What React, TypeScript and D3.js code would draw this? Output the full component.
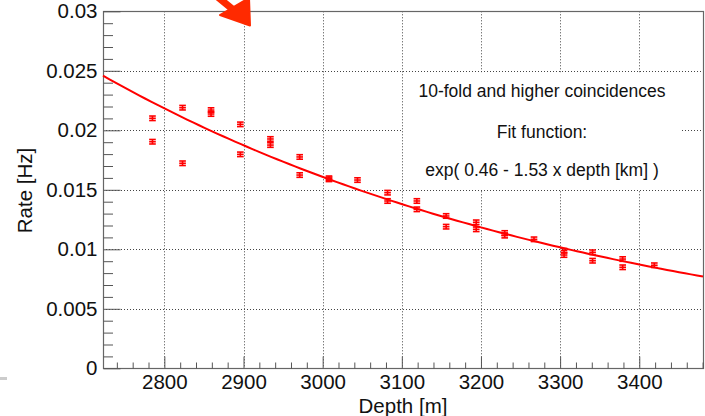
import { useEffect, useRef } from "react";
import * as d3 from "d3";

// measured depths (m) and rates (Hz); some depths have two readings
const depths = [2785, 2823, 2859, 2896, 2934, 2971, 3008, 3044, 3082, 3119, 3156, 3194, 3230, 3267, 3305, 3341, 3379, 3419];
const rateA = [0.02101, 0.0219, 0.0217, 0.0205, 0.01927, 0.01776, 0.01597, 0.01582, 0.01476, 0.01406, 0.0128, 0.01227, 0.01137, 0.01084, 0.00988, 0.00975, 0.00918, 0.00866];
const rateB = [0.01904, 0.01723, 0.02137, 0.01798, 0.01876, 0.01624, 0.01588, null, 0.01406, 0.01336, 0.0119, 0.01168, 0.01115, null, 0.00952, 0.00904, 0.00849, null];
const depthErr = 4.2;
const rateErr = 0.00019;

// fit shown in the legend: exp(p0 - p1 * depth[km])
const fitP0 = 0.46;
const fitP1 = 1.53;

const xMajor = [2800, 2900, 3000, 3100, 3200, 3300, 3400];
const xLabels = ["2800", "2900", "3000", "3100", "3200", "3300", "3400"];
const yMajor = [0, 0.005, 0.01, 0.015, 0.02, 0.025, 0.03];
const yLabels = ["0", "0.005", "0.01", "0.015", "0.02", "0.025", "0.03"];

const legendLines = ["10-fold and higher coincidences", "Fit function:", "exp( 0.46 - 1.53 x depth [km] )"];

const FONT = "'Liberation Sans', Arial, Helvetica, sans-serif";

export default function App() {
  const svgRef = useRef<SVGSVGElement | null>(null);

  useEffect(() => {
    const W = 705, H = 416;
    const left = 103, right = 703, top = 11.3, bottom = 368.3;
    const svg = d3.select(svgRef.current);
    svg.selectAll("*").remove();
    svg.attr("width", W).attr("height", H);

    const x = d3.scaleLinear().domain([2722.5, 3480.5]).range([left, right]);
    const y = d3.scaleLinear().domain([0, 0.03]).range([bottom, top]);
    const crisp = (v: number) => Math.round(v) + 0.5;

    svg.append("rect").attr("width", W).attr("height", H).attr("fill", "#fff");

    // leftovers from the slide
    svg.append("rect").attr("x", 0).attr("y", 377).attr("width", 7).attr("height", 3).attr("fill", "#ccc");

    // grid
    const grid = svg.append("g").attr("stroke", "#444").attr("stroke-width", 1).attr("stroke-dasharray", "1,2");
    xMajor.forEach(v => {
      grid.append("line").attr("x1", crisp(x(v))).attr("x2", crisp(x(v))).attr("y1", top).attr("y2", bottom);
    });
    yMajor.slice(1, -1).forEach(v => {
      grid.append("line").attr("x1", left).attr("x2", right).attr("y1", crisp(y(v))).attr("y2", crisp(y(v)));
    });

    // legend pave
    svg.append("rect").attr("x", 403).attr("y", 72.5).attr("width", 277).attr("height", 117.5).attr("fill", "#fff");
    const legY = [97.3, 137.7, 175.7];
    legendLines.forEach((t, i) => {
      svg.append("text")
        .attr("x", 542).attr("y", legY[i])
        .attr("text-anchor", "middle")
        .attr("font-family", FONT).attr("font-size", 17.5).attr("fill", "#111")
        .text(t);
    });

    // frame
    svg.append("rect")
      .attr("x", crisp(left)).attr("y", crisp(top))
      .attr("width", Math.round(right - left)).attr("height", Math.round(bottom - top))
      .attr("fill", "none").attr("stroke", "#666").attr("stroke-width", 1.2);

    // x axis
    const xMinor = d3.range(2740, 3481, 20).filter(v => v % 100 !== 0);
    const gx = svg.append("g").attr("transform", `translate(0,${crisp(bottom)})`);
    gx.append("g").call(d3.axisBottom(x).tickValues(xMinor).tickSize(-6).tickSizeOuter(0).tickFormat(() => ""));
    gx.append("g").call(
      d3.axisBottom(x).tickValues(xMajor).tickSize(-12).tickSizeOuter(0).tickPadding(6)
        .tickFormat((_, i) => xLabels[i])
    );
    gx.selectAll(".domain").remove();
    gx.selectAll("line").attr("stroke", "#555");
    gx.selectAll("text").attr("font-family", FONT).attr("font-size", 20.5).attr("fill", "#111");

    // y axis
    const yMinor = d3.range(1, 30).filter(k => k % 5 !== 0).map(k => k * 0.001);
    const gy = svg.append("g").attr("transform", `translate(${crisp(left)},0)`);
    gy.append("g").call(d3.axisLeft(y).tickValues(yMinor).tickSize(-9.5).tickSizeOuter(0).tickFormat(() => ""));
    gy.append("g").call(
      d3.axisLeft(y).tickValues(yMajor).tickSize(-17).tickSizeOuter(0).tickPadding(6)
        .tickFormat((_, i) => yLabels[i])
    );
    gy.selectAll(".domain").remove();
    gy.selectAll("line").attr("stroke", "#555");
    gy.selectAll("text").attr("font-family", FONT).attr("font-size", 20.5).attr("fill", "#111");

    // axis titles
    svg.append("text")
      .attr("x", (left + right) / 2).attr("y", 413)
      .attr("text-anchor", "middle")
      .attr("font-family", FONT).attr("font-size", 20.5).attr("fill", "#111")
      .text("Depth [m]");
    svg.append("text")
      .attr("transform", `translate(31.5,190.5) rotate(-90)`)
      .attr("text-anchor", "middle")
      .attr("font-family", FONT).attr("font-size", 20.5).attr("fill", "#111")
      .text("Rate [Hz]");

    // fit curve
    const fitX = d3.range(0, 101).map(i => x.domain()[0] + (i / 100) * (x.domain()[1] - x.domain()[0]));
    const fitLine = d3.line<number>()
      .x(d => x(d))
      .y(d => y(Math.exp(fitP0 - fitP1 * d / 1000)));
    svg.append("path")
      .datum(fitX)
      .attr("d", fitLine)
      .attr("fill", "none")
      .attr("stroke", "#ff0000")
      .attr("stroke-width", 2);

    // data points with error bars
    const pts: { d: number; r: number }[] = [];
    depths.forEach((d, i) => {
      pts.push({ d, r: rateA[i] });
      if (rateB[i] !== null) pts.push({ d, r: rateB[i] as number });
    });
    const gp = svg.append("g").attr("stroke", "#ff0000").attr("stroke-width", 1.6).attr("fill", "none");
    pts.forEach(p => {
      const cx = x(p.d), cy = y(p.r);
      const x0 = x(p.d - depthErr), x1 = x(p.d + depthErr);
      const y0 = y(p.r - rateErr), y1 = y(p.r + rateErr);
      gp.append("line").attr("x1", x0).attr("x2", x1).attr("y1", cy).attr("y2", cy);
      gp.append("line").attr("x1", cx).attr("x2", cx).attr("y1", y0).attr("y2", y1);
      gp.append("line").attr("x1", x0).attr("x2", x1).attr("y1", y0).attr("y2", y0);
      gp.append("line").attr("x1", x0).attr("x2", x1).attr("y1", y1).attr("y2", y1);
    });

    // annotation arrow from the slide
    const arrow = svg.append("g").attr("fill", "#ff2a00").attr("stroke", "#ff2a00");
    arrow.append("line")
      .attr("x1", 214).attr("y1", -6).attr("x2", 236).attr("y2", 12)
      .attr("stroke-width", 7).attr("stroke-linecap", "round");
    arrow.append("path")
      .attr("d", "M220,15 L250,25.5 L249,-2 Z")
      .attr("stroke-width", 2).attr("stroke-linejoin", "round");
  }, []);

  return (
    <svg
      ref={svgRef}
      style={{ position: "absolute", left: 0, top: 0, display: "block" }}
    />
  );
}
